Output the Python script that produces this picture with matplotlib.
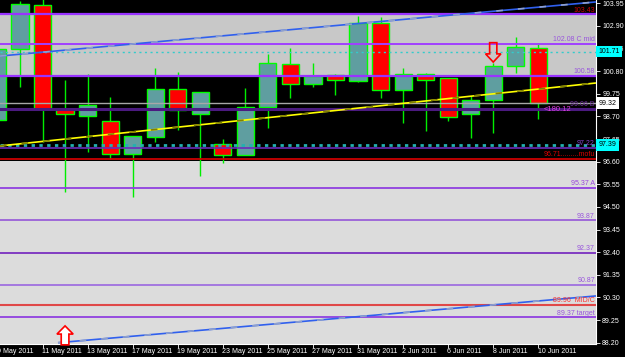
import matplotlib
matplotlib.use('Agg')
import matplotlib.pyplot as plt
import matplotlib.transforms as mtrans
from matplotlib.patches import FancyArrow

plt.rcParams['font.family'] = ['Liberation Sans', 'DejaVu Sans']

# ---------------- data ----------------
dates = ['9 May 2011', '10 May 2011', '11 May 2011', '12 May 2011', '13 May 2011',
         '16 May 2011', '17 May 2011', '18 May 2011', '19 May 2011', '20 May 2011',
         '23 May 2011', '24 May 2011', '25 May 2011', '26 May 2011', '27 May 2011',
         '30 May 2011', '31 May 2011', '1 Jun 2011', '2 Jun 2011', '3 Jun 2011',
         '6 Jun 2011', '7 Jun 2011', '8 Jun 2011', '9 Jun 2011', '10 Jun 2011']
opens  = [98.53, 101.81, 103.86, 99.04, 98.73, 98.50, 96.94, 97.73, 99.96, 98.81,
          97.41, 96.92, 99.15, 101.12, 100.19, 100.61, 100.33, 103.05, 99.94, 100.65,
          100.47, 98.80, 99.48, 101.04, 101.86]
highs  = [102.00, 104.06, 104.15, 100.39, 100.67, 99.60, 97.80, 100.93, 100.76, 99.85,
          97.65, 100.02, 101.60, 101.86, 101.19, 100.67, 103.36, 103.30, 100.93, 100.72,
          100.48, 99.66, 101.17, 102.40, 102.12]
lows   = [98.30, 100.07, 97.51, 95.19, 97.05, 96.72, 94.96, 97.53, 98.07, 95.94,
          96.55, 96.90, 98.15, 99.57, 100.05, 99.69, 100.30, 99.57, 98.41, 98.04,
          98.50, 97.71, 97.94, 100.73, 98.57]
closes = [101.82, 103.90, 99.04, 98.80, 99.23, 96.94, 97.79, 99.96, 99.00, 99.83,
          96.92, 99.15, 101.17, 100.19, 100.59, 100.38, 103.05, 99.91, 100.65, 100.39,
          98.66, 99.48, 101.05, 101.91, 99.31]

date_label_idx = [0, 2, 4, 6, 8, 10, 12, 14, 16, 18, 20, 22, 24]
y_ticks = [88.20, 89.25, 90.30, 91.35, 92.40, 93.45, 94.50, 95.55, 96.60,
           97.65, 98.70, 99.75, 100.80, 101.85, 102.90, 103.95]

# zones (background rectangles)
zone_mid = (100.58, 103.43)
zone_low = (80.0, 96.64)

# horizontal levels
levels = [103.43, 102.08, 100.58, 99.06, 97.22, 96.71, 95.37, 93.87, 92.37, 90.87, 89.96, 89.37]
level_text = ['103.43', '102.08 C mid', '100.58', '99.06 B', '97.22', '96.71.........mofu',
              '95.37 A', '93.87', '92.37', '90.87', '89.96  MID/C', '89.37 target']
level_color = ['#9933ff', '#a040ff', '#9933ff', '#4b1a80', '#6a2dbb', '#cc0000',
               '#9040e0', '#9a60d8', '#7a30c0', '#a070e0', '#e04848', '#9040e0']
level_lw = [1.6, 1.4, 1.6, 2.2, 1.2, 1.3, 1.3, 1.3, 1.3, 1.3, 1.5, 1.3]
text_color = ['#cc0000', '#9955dd', '#9955dd', '#7030a0', '#8844cc', '#dd0000',
              '#9944dd', '#9955dd', '#9955dd', '#9955dd', '#ff3030', '#9955dd']

ask_level = 101.71
bid_level = 99.31
dotted_level = 97.37

# trend lines: (bar index, price)
yellow_line = [(0.113, 97.33), (26.56, 100.25)]
blue_upper = [(0.113, 101.50), (26.56, 104.01)]
blue_lower = [(2.686, 88.20), (26.56, 90.37)]

# arrows: bar index, start price, end price
arrow_down = (22, 102.12, 101.22)
arrow_up = (3, 88.10, 88.98)

# right-axis price boxes
price_boxes = [(101.71, '101.71', '#00ffff'), (99.32, '99.32', '#ffffff'), (97.39, '97.39', '#00ffff')]

# ---------------- figure ----------------
fig = plt.figure(figsize=(6.25, 3.57), dpi=100, facecolor='black')
ax = fig.add_axes([0, 13 / 357, 596 / 625, 344 / 357])
ax.set_facecolor('black')
ax.set_xlim(0.113, 26.56)
ax.set_ylim(88.14, 104.10)

ax.axhspan(*zone_mid, color='#c8c8c8', zorder=0, lw=0)
ax.axhspan(*zone_low, color='#dcdcdc', zorder=0, lw=0)

# candles
x = list(range(len(dates)))
for i in x:
    o, h, l, c = opens[i], highs[i], lows[i], closes[i]
    ax.vlines(i, l, h, color='#00ee00', lw=1.0, zorder=2)
    up = c >= o
    ax.bar(i, abs(c - o), bottom=min(o, c), width=0.76,
           color='#5f9ea0' if up else '#ff0000', edgecolor='#00ff00', lw=1.0, zorder=2.5)

# levels
for v, col, lw in zip(levels, level_color, level_lw):
    ax.axhline(v, color=col, lw=lw, zorder=3)
ax.axhline(ask_level, color='#33cccc', lw=1.0, ls=(0, (1.5, 2.5)), zorder=3)
ax.axhline(bid_level, color='#a8a8a8', lw=1.0, zorder=3)
ax.axhline(dotted_level, color='#22b0b0', lw=2.0, ls=(0, (1.2, 1.6)), zorder=3)

tr = mtrans.blended_transform_factory(ax.transAxes, ax.transData)
for v, t, col in zip(levels, level_text, text_color):
    ax.text(0.998, v + 0.04, t, transform=tr, ha='right', va='bottom',
            fontsize=5, color=col, zorder=6)
ax.text(0.958, 99.06 - 0.06, '<180.12', transform=tr, ha='right', va='center',
        fontsize=5.5, color='#e040e0', zorder=6)

# trend lines
for pts, base, over in [(yellow_line, '#ffff00', '#808000'),
                        (blue_upper, '#3060ee', '#8fa0cc'),
                        (blue_lower, '#3060ee', '#8fa0cc')]:
    xs = [p[0] for p in pts]
    ys = [p[1] for p in pts]
    ax.plot(xs, ys, color=base, lw=1.2, zorder=4, solid_capstyle='butt')
    ax.plot(xs, ys, color=over, lw=1.2, zorder=4.1, ls=(0, (4, 9)))

# arrows
xi, y0, y1 = arrow_down
ax.add_patch(FancyArrow(xi, y0, 0, y1 - y0, width=0.32, head_width=0.68,
                        head_length=0.38, length_includes_head=True,
                        fc='none', ec='#ff0000', lw=1.2, zorder=6))
xi, y0, y1 = arrow_up
ax.add_patch(FancyArrow(xi, y0, 0, y1 - y0, width=0.34, head_width=0.72,
                        head_length=0.38, length_includes_head=True,
                        fc='#ffffff', ec='#ff0000', lw=1.2, zorder=6, clip_on=False))

# axes styling
for s in ['top', 'left']:
    ax.spines[s].set_visible(False)
for s in ['right', 'bottom']:
    ax.spines[s].set_color('#ffffff')
    ax.spines[s].set_linewidth(0.8)

ax.yaxis.tick_right()
ax.set_yticks(y_ticks)
ax.set_yticklabels([f'{v:.2f}' for v in y_ticks])
ax.tick_params(axis='y', colors='white', labelsize=5, length=3, width=0.6, pad=1.5)

ax.set_xticks([i for i in date_label_idx if i > 0.113])
ax.tick_params(axis='x', colors='white', length=3, width=0.6, labelbottom=False)
trx = mtrans.blended_transform_factory(ax.transData, ax.transAxes)
for i in date_label_idx:
    ax.text(i - 0.03, -0.013, dates[i], transform=trx, ha='left', va='top',
            fontsize=5, color='white', clip_on=False)

for v, t, col in price_boxes:
    ax.text(1.004, v, t, transform=tr, ha='left', va='center', fontsize=5,
            color='black', zorder=10, clip_on=False,
            bbox=dict(boxstyle='square,pad=0.35', fc=col, ec='none'))

fig.savefig('out.png', dpi=100, facecolor='black')
